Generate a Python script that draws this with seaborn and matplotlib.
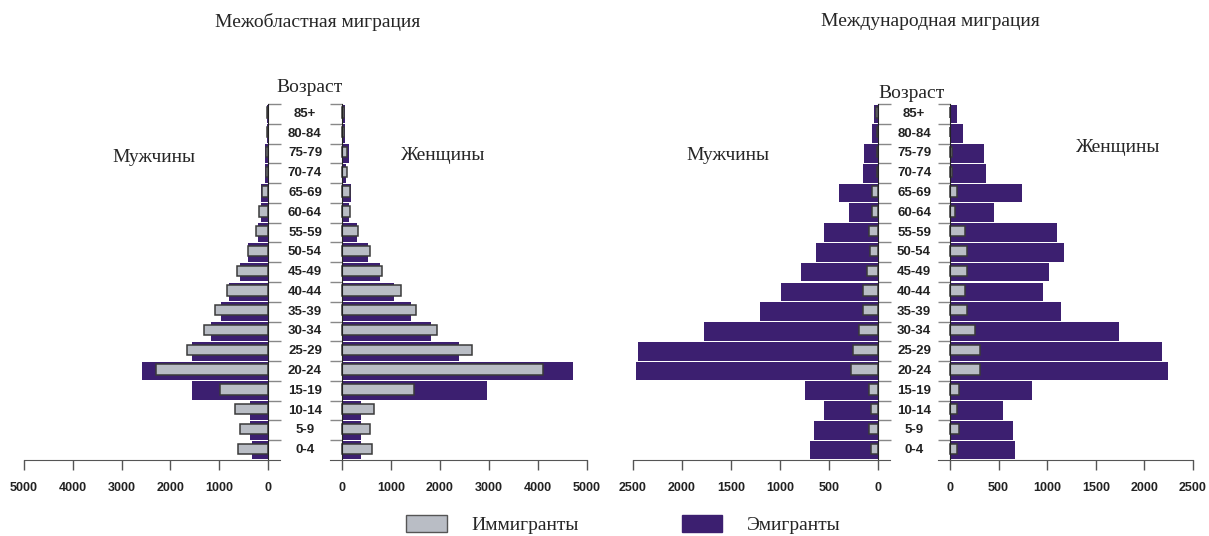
import numpy as np
import pandas as pd
import matplotlib
matplotlib.use("Agg")
import matplotlib.pyplot as plt
import seaborn as sns
from matplotlib.patches import Patch
from matplotlib.transforms import blended_transform_factory

sns.set_style("white")
plt.rcParams["font.family"] = ["Liberation Sans", "DejaVu Sans"]

ages = ["85+", "80-84", "75-79", "70-74", "65-69", "60-64", "55-59", "50-54",
        "45-49", "40-44", "35-39", "30-34", "25-29", "20-24", "15-19",
        "10-14", "5-9", "0-4"]

# interregional migration
inter_men_emig = [30, 30, 60, 70, 143, 143, 205, 410, 574, 799, 963, 1168,
                  1557, 2582, 1557, 369, 369, 328]
inter_men_immig = [20, 20, 45, 50, 130, 178, 253, 410, 642, 840, 1079, 1318,
                   1667, 2302, 990, 683, 567, 608]
inter_women_emig = [61, 54, 136, 80, 177, 143, 306, 524, 776, 1061, 1401, 1816,
                    2388, 4714, 2959, 388, 388, 388]
inter_women_immig = [47, 47, 95, 95, 163, 163, 333, 578, 810, 1197, 1517, 1946,
                     2660, 4100, 1476, 646, 565, 605]

# international migration
intl_men_emig = [41, 61, 143, 153, 398, 296, 551, 633, 786, 990, 1204, 1776,
                 2449, 2469, 745, 551, 653, 694]
intl_men_immig = [20, 15, 10, 10, 58, 58, 95, 78, 116, 156, 156, 197,
                  258, 279, 95, 75, 95, 75]
intl_women_emig = [71, 133, 347, 367, 745, 449, 1102, 1173, 1020, 959, 1143, 1735,
                   2184, 2245, 847, 551, 653, 673]
intl_women_immig = [0, 0, 20, 20, 75, 51, 156, 177, 177, 156, 173, 255,
                    313, 313, 92, 71, 92, 71]

PURPLE = "#3c1f70"
GREY = "#b9bdc5"
EDGE = "#3a3a3a"

W, H = 1209, 536
fig = plt.figure(figsize=(W / 100, H / 100), dpi=100)


def px_axes(x0, x1, y0=104, y1=460):
    return fig.add_axes([x0 / W, 1 - y1 / H, (x1 - x0) / W, (y1 - y0) / H])


def draw_side(ax, emig, immig, xmax, ext, men):
    df = pd.DataFrame({"age": ages, "emig": emig, "immig": immig})
    sns.barplot(data=df, y="age", x="emig", order=ages, color=PURPLE,
                width=0.94, saturation=1, ax=ax, linewidth=0)
    n_em = len(ax.patches)
    sns.barplot(data=df, y="age", x="immig", order=ages, color=GREY,
                width=0.52, saturation=1, ax=ax, edgecolor=EDGE, linewidth=1.1)
    for p in ax.patches[n_em:]:
        p.set_y(p.get_y() - 0.07)
    ax.set_ylim(len(ages) - 0.5, -0.5)
    if men:
        ax.set_xlim(xmax, -ext)
        side = "right"
    else:
        ax.set_xlim(-ext, xmax)
        side = "left"
    for s in ax.spines.values():
        s.set_visible(False)
    ax.spines["bottom"].set_visible(True)
    ax.spines["bottom"].set_color("#555555")
    ax.spines[side].set_visible(True)
    ax.spines[side].set_position(("data", 0))
    ax.spines[side].set_color("#222222")
    ax.yaxis.set_ticks_position(side)
    ax.set_yticks(np.arange(-0.5, len(ages) - 1, 1))
    ax.set_yticklabels([])
    ax.tick_params(axis="y", direction="out", length=9, width=1,
                   color="#888888", left=not men, right=men)
    step = xmax // 5
    ax.set_xticks(np.arange(0, xmax + 1, step))
    ax.tick_params(axis="x", direction="out", length=7, width=1, bottom=True,
                   color="#555555", pad=9, labelsize=9)
    for lab in ax.get_xticklabels():
        lab.set_fontweight("bold")
        lab.set_color("#222222")
    ax.set_xlabel("")
    ax.set_ylabel("")


panels = [
    (24, 268, 342, 587, 5000, inter_men_emig, inter_men_immig,
     inter_women_emig, inter_women_immig, 305),
    (633, 878, 950, 1193, 2500, intl_men_emig, intl_men_immig,
     intl_women_emig, intl_women_immig, 914),
]

for (m0, m1, w0, w1, xmax, me, mi, we, wi, cx) in panels:
    ext_px = 12
    ext = xmax * ext_px / (m1 - m0)
    ax_m = px_axes(m0, m1 + ext_px)
    ax_w = px_axes(w0 - ext_px, w1)
    draw_side(ax_m, me, mi, xmax, ext, True)
    draw_side(ax_w, we, wi, xmax, ext, False)
    tr = blended_transform_factory(fig.transFigure, ax_w.transData)
    for i, a in enumerate(ages):
        fig.text(cx / W, i, a, transform=tr, ha="center", va="center",
                 fontsize=9.5, fontweight="bold", color="#222222")

serif = ["Liberation Serif", "DejaVu Serif"]
FS = 14
fig.text(318 / W, 1 - 22 / H, "Межобластная миграция", ha="center", va="center",
         fontsize=FS, family=serif)
fig.text(930 / W, 1 - 22 / H, "Международная миграция", ha="center", va="center",
         fontsize=FS, family=serif)
fig.text(310 / W, 1 - 87 / H, "Возраст", ha="center", va="center",
         fontsize=FS, family=serif)
fig.text(912 / W, 1 - 94 / H, "Возраст", ha="center", va="center",
         fontsize=FS, family=serif)
fig.text(154 / W, 1 - 157 / H, "Мужчины", ha="center", va="center",
         fontsize=FS, family=serif)
fig.text(443 / W, 1 - 155 / H, "Женщины", ha="center", va="center",
         fontsize=FS, family=serif)
fig.text(728 / W, 1 - 155 / H, "Мужчины", ha="center", va="center",
         fontsize=FS, family=serif)
fig.text(1118 / W, 1 - 148 / H, "Женщины", ha="center", va="center",
         fontsize=FS, family=serif)

handles = [Patch(facecolor=GREY, edgecolor="#555555", linewidth=1),
           Patch(facecolor=PURPLE, edgecolor=PURPLE)]
fig.legend(handles, ["Иммигранты", "Эмигранты"], loc="upper left",
           bbox_to_anchor=(406 / W, 1 - 515 / H), ncol=2, frameon=False,
           prop={"family": serif, "size": FS}, handlelength=2.1,
           handleheight=1.0, handletextpad=1.25, columnspacing=5.3,
           borderpad=0, borderaxespad=0)

fig.savefig("out.png", dpi=100)
